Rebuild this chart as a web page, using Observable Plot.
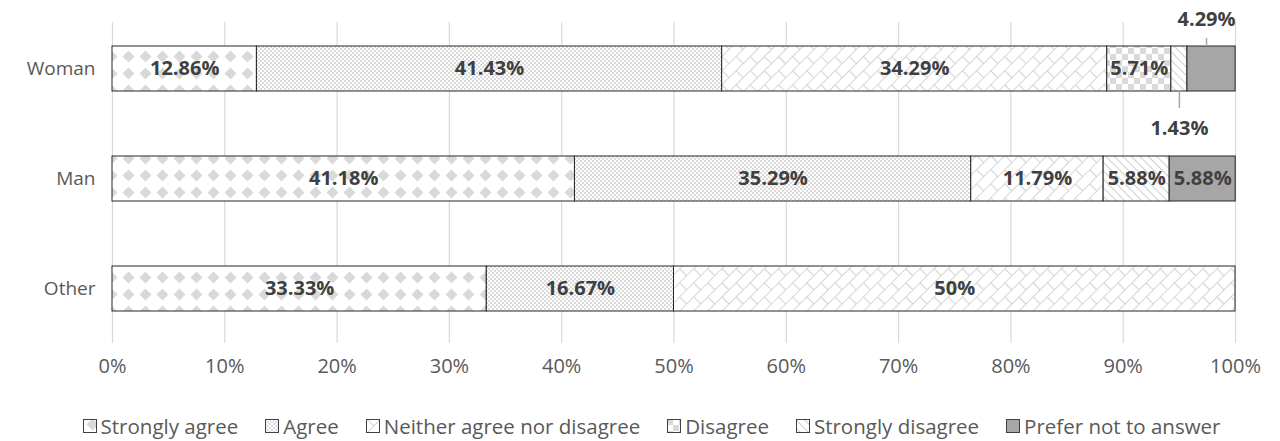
<!DOCTYPE html>
<html><head><meta charset="utf-8">
<script src="https://cdn.jsdelivr.net/npm/d3@7"></script>
<script src="https://cdn.jsdelivr.net/npm/@observablehq/plot@0.6"></script>
<style>
body{margin:0;background:#fff;font-family:"Open Sans",sans-serif;}
#legend{display:flex;justify-content:center;align-items:center;gap:27px;font-size:20.5px;color:#595959;height:31px;line-height:22px;padding-left:23px;}
#legend .item{display:flex;align-items:center;}
#legend svg{margin-right:4px;}
</style></head><body>
<div id="chart"></div>
<div id="legend"></div>
<script>
// ---- data ----
const groups = ["Woman", "Man", "Other"];
const responses = ["Strongly agree", "Agree", "Neither agree nor disagree", "Disagree", "Strongly disagree", "Prefer not to answer"];
const womanValues = [12.86, 41.43, 34.29, 5.71, 1.43, 4.29];
const manValues = [41.18, 35.29, 11.79, 0, 5.88, 5.88];
const otherValues = [33.33, 16.67, 50, 0, 0, 0];
const xTicks = [0, 10, 20, 30, 40, 50, 60, 70, 80, 90, 100];
const calloutsAbove = [["Woman", "Prefer not to answer"]];
const calloutsBelow = [["Woman", "Strongly disagree"]];

const seriesByGroup = {Woman: womanValues, Man: manValues, Other: otherValues};
const rows = [];
for (const g of groups) responses.forEach((r, i) => rows.push({group: g, response: r, value: seriesByGroup[g][i]}));
const fmt = v => `${v}%`;
const isIn = (list, d) => list.some(([g, r]) => g === d.group && r === d.response);

const patternIds = responses.map((r, i) => `pat${i}`);
const defs = `
<defs>
 <pattern id="pat0" patternUnits="userSpaceOnUse" width="17" height="17" x="1" y="-3">
  <rect width="17" height="17" fill="#fff"/>
  <polygon points="8.5,2.5 14.5,8.5 8.5,14.5 2.5,8.5" fill="#d9d9d9"/>
 </pattern>
 <pattern id="pat1" patternUnits="userSpaceOnUse" width="4" height="4">
  <rect width="4" height="4" fill="#fff"/>
  <rect width="2" height="2" fill="#dadada"/>
  <rect x="2" y="2" width="2" height="2" fill="#dadada"/>
 </pattern>
 <pattern id="pat2" patternUnits="userSpaceOnUse" width="20" height="20" patternTransform="rotate(-45)">
  <rect width="20" height="20" fill="#fff"/>
  <path d="M0,0.5H20M0,10.5H20M0.5,0V10M10.5,10V20" stroke="#d6d6d6" stroke-width="1.2" fill="none"/>
 </pattern>
 <pattern id="pat3" patternUnits="userSpaceOnUse" width="12" height="12">
  <rect width="12" height="12" fill="#fff"/>
  <rect width="6" height="6" fill="#d9d9d9"/>
  <rect x="6" y="6" width="6" height="6" fill="#d9d9d9"/>
 </pattern>
 <pattern id="pat4" patternUnits="userSpaceOnUse" width="6" height="6" patternTransform="rotate(45)">
  <rect width="6" height="6" fill="#fff"/>
  <path d="M0,0.5H6" stroke="#d0d0d0" stroke-width="1.1"/>
 </pattern>
 <pattern id="pat5" patternUnits="userSpaceOnUse" width="4" height="4">
  <rect width="4" height="4" fill="#a6a6a6"/>
 </pattern>
</defs>`;

const textStyle = {fill: "#404040", fontWeight: "bold", fontSize: 20};

const plot = Plot.plot({
  width: 1280,
  height: 410,
  marginTop: 22,
  marginBottom: 67,
  marginLeft: 112,
  marginRight: 45,
  style: {fontFamily: "'Open Sans', sans-serif", fontSize: "20px", color: "#595959", background: "#fff"},
  x: {domain: [0, 100], label: null},
  y: {domain: groups, paddingInner: 0.59, paddingOuter: 0.254, align: 0.43, label: null},
  color: {domain: responses, range: patternIds.map(id => `url(#${id})`), legend: false},
  opacity: {domain: [0, 1], range: [0, 1]},
  marks: [
    Plot.gridX(xTicks, {stroke: "#d9d9d9", strokeOpacity: 1, strokeWidth: 1.2}),
    Plot.axisX(xTicks, {tickFormat: d => `${d}%`, tickSize: 0, tickPadding: 15, fontSize: 20, fill: "#595959", label: null}),
    Plot.axisY({tickSize: 0, tickPadding: 17, fontSize: 19, fill: "#595959", label: null}),
    Plot.barX(rows, Plot.stackX({x: "value", y: "group", fill: "response", stroke: "#262626", strokeWidth: 1})),
    Plot.text(rows, Plot.stackX({x: "value", y: "group", text: d => d.value >= 5 ? fmt(d.value) : "", ...textStyle})),
    Plot.tickX(rows, Plot.stackX({x: "value", y: "group", stroke: "#a6a6a6", strokeOpacity: d => isIn(calloutsAbove, d) ? 1 : 0, strokeWidth: 1.5, insetBottom: 37, dy: -8, dx: -5})),
    Plot.text(rows, Plot.stackX({x: "value", y: "group", text: d => isIn(calloutsAbove, d) ? fmt(d.value) : "", dy: -49, dx: -5, ...textStyle})),
    Plot.tickX(rows, Plot.stackX({x: "value", y: "group", stroke: "#a6a6a6", strokeOpacity: d => isIn(calloutsBelow, d) ? 1 : 0, strokeWidth: 1.5, insetTop: 28, dy: 17})),
    Plot.text(rows, Plot.stackX({x: "value", y: "group", text: d => isIn(calloutsBelow, d) ? fmt(d.value) : "", dy: 60, ...textStyle}))
  ]
});
plot.insertAdjacentHTML("afterbegin", defs);
document.getElementById("chart").appendChild(plot);

const legend = document.getElementById("legend");
responses.forEach((r, i) => {
  const item = document.createElement("div");
  item.className = "item";
  item.innerHTML = `<svg width="14" height="14"><rect x="0.5" y="0.5" width="13" height="13" fill="url(#${patternIds[i]})" stroke="#404040" stroke-width="1"/></svg><span>${r}</span>`;
  legend.appendChild(item);
});
</script>
</body></html>
